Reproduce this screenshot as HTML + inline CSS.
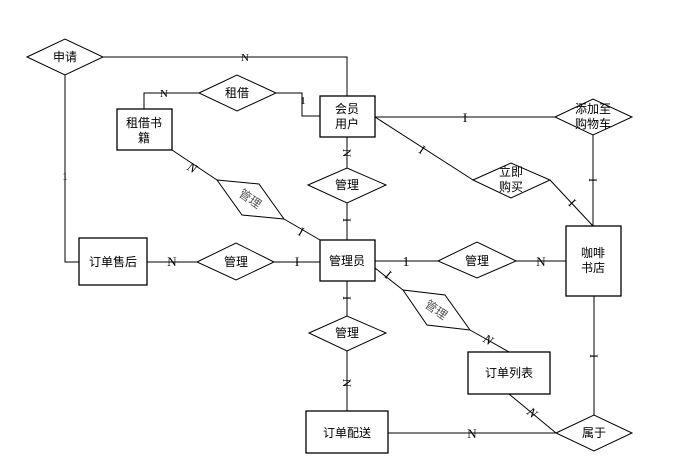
<!DOCTYPE html>
<html><head><meta charset="utf-8"><style>
html,body{margin:0;padding:0;background:#fff}
svg{display:block}
text{font-family:"Liberation Serif","Noto Sans CJK SC",serif;font-size:12px;fill:#000}
.c{font-family:"Liberation Sans","Noto Sans CJK SC",sans-serif;font-size:12px}
</style></head><body>
<svg width="692" height="474" viewBox="0 0 692 474" xmlns="http://www.w3.org/2000/svg">
<g stroke="#000" stroke-width="1" fill="none">
<!-- connectors -->
<polyline points="103,57 347,57 347,96"/>
<polyline points="199,93 144,93 144,109"/>
<polyline points="276,93 302,93 302,116 320,116"/>
<polyline points="65,75 65,262 79,262"/>
<line x1="147" y1="262" x2="197" y2="262"/>
<line x1="274" y1="262" x2="320" y2="262"/>
<line x1="347" y1="137" x2="347" y2="168"/>
<line x1="347" y1="203" x2="347" y2="240"/>
<line x1="172" y1="150" x2="217" y2="180"/>
<line x1="284" y1="219" x2="320" y2="240"/>
<line x1="375" y1="117" x2="555" y2="117"/>
<line x1="593" y1="135" x2="593" y2="226"/>
<line x1="375" y1="117" x2="473" y2="180"/>
<line x1="550" y1="180" x2="593" y2="226"/>
<line x1="375" y1="261" x2="438" y2="261"/>
<line x1="516" y1="261" x2="566" y2="261"/>
<line x1="347" y1="281" x2="347" y2="316"/>
<line x1="347" y1="351" x2="347" y2="411"/>
<line x1="375" y1="268" x2="403" y2="290"/>
<line x1="470" y1="330" x2="509" y2="352"/>
<line x1="388" y1="433" x2="556" y2="433"/>
<line x1="509" y1="394" x2="556" y2="433"/>
<line x1="594" y1="296" x2="594" y2="415"/>
<!-- boxes -->
<g stroke-width="1.3">
<rect x="117" y="109" width="55" height="41"/>
<rect x="320" y="96" width="55" height="41"/>
<rect x="79" y="238" width="68" height="47"/>
<rect x="320" y="240" width="55" height="41"/>
<rect x="566" y="226" width="55" height="70"/>
<rect x="468" y="352" width="82" height="42"/>
<rect x="306" y="411" width="82" height="42"/>
</g>
<!-- diamonds -->
<g fill="#fff">
<polygon points="27,57 65,39 103,57 65,75"/>
<polygon points="199,93 237,75 276,93 237,111"/>
<polygon points="197,262 236,243 274,262 236,280"/>
<polygon points="308,185 347,168 386,185 347,203"/>
<polygon points="555,117 593,99 632,117 593,135"/>
<polygon points="473,180 511,163 550,180 511,198"/>
<polygon points="438,261 477,242 516,261 477,278"/>
<polygon points="309,333 347,316 386,333 347,351"/>
<polygon points="556,433 594,415 632,433 594,451"/>
<polygon points="217,180 259,184 284,219 242,215"/>
<polygon points="403,290 445,295 470,330 427,325"/>
</g>
</g>
<!-- labels -->
<g class="c" text-anchor="middle">
<text class="c" x="65" y="61">申请</text>
<text class="c" x="237" y="97">租借</text>
<text class="c" x="144" y="127">租借书</text>
<text class="c" x="144" y="142">籍</text>
<text class="c" x="347" y="113">会员</text>
<text class="c" x="347" y="128">用户</text>
<text class="c" x="113" y="266">订单售后</text>
<text class="c" x="236" y="266">管理</text>
<text class="c" x="347" y="189">管理</text>
<text class="c" x="347" y="265">管理员</text>
<text class="c" x="593" y="113">添加至</text>
<text class="c" x="593" y="128">购物车</text>
<text class="c" x="511" y="176">立即</text>
<text class="c" x="511" y="191">购买</text>
<text class="c" x="477" y="265">管理</text>
<text class="c" x="593" y="257">咖啡</text>
<text class="c" x="593" y="272">书店</text>
<text class="c" x="347" y="337">管理</text>
<text class="c" x="509" y="377">订单列表</text>
<text class="c" x="347" y="437">订单配送</text>
<text class="c" x="594" y="437">属于</text>
<text class="c" x="250" y="203" fill="#555" style="fill:#555" transform="rotate(35 250 199)">管理</text>
<text class="c" x="436" y="314" fill="#555" style="fill:#555" transform="rotate(35 436 310)">管理</text>
</g>
<g text-anchor="middle" font-size="12">
<text x="245" y="61" style="font-size:11px">N</text>
<text x="164" y="97" style="font-size:11px">N</text>
<text x="303" y="104" style="font-size:11px">1</text>
<text x="65" y="180" style="font-size:11px">1</text>
<text x="172" y="266" style="font-size:13px">N</text>
<text x="297" y="266" style="font-size:13px">I</text>
<text x="347" y="157" style="font-size:12px" transform="rotate(90 347 153)">N</text>
<text x="347" y="224" style="font-size:12px" transform="rotate(90 347 220)">I</text>
<text x="192" y="172" style="font-size:13px;font-style:italic" transform="rotate(30 192 168)">N</text>
<text x="301" y="236" style="font-size:13px" transform="rotate(30 301 232)">I</text>
<text x="465" y="122" style="font-size:13px">I</text>
<text x="422" y="154" style="font-size:13px" transform="rotate(35 422 150)">I</text>
<text x="572" y="207" style="font-size:13px" transform="rotate(45 572 203)">I</text>
<text x="593" y="184" style="font-size:12px" transform="rotate(90 593 180)">I</text>
<text x="406" y="266" style="font-size:14px">1</text>
<text x="541" y="266" style="font-size:13px">N</text>
<text x="347" y="302" style="font-size:12px" transform="rotate(90 347 298)">I</text>
<text x="347" y="387" style="font-size:12px" transform="rotate(90 347 383)">N</text>
<text x="388" y="279" style="font-size:13px" transform="rotate(40 388 275)">I</text>
<text x="488" y="344" style="font-size:13px;font-style:italic" transform="rotate(30 488 340)">N</text>
<text x="472" y="438" style="font-size:13px">N</text>
<text x="532" y="417" style="font-size:13px;font-style:italic" transform="rotate(40 532 413)">N</text>
<text x="594" y="360" style="font-size:12px" transform="rotate(90 594 356)">I</text>
</g>
</svg>
</body></html>
